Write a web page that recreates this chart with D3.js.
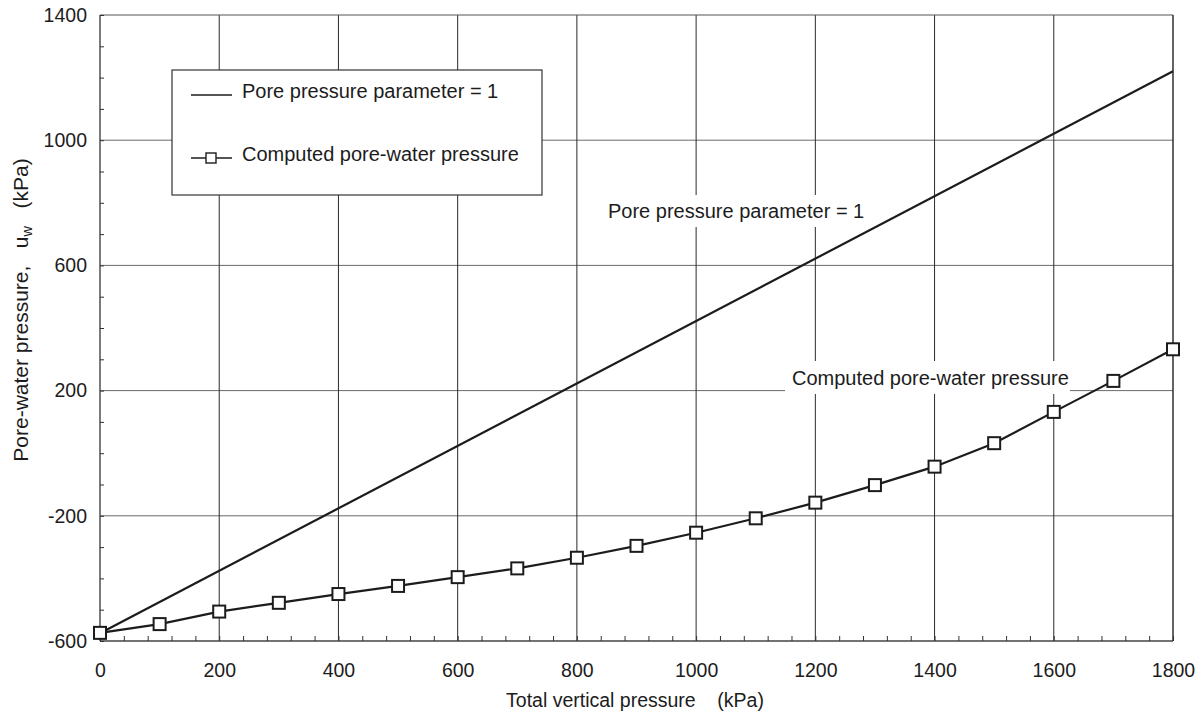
<!DOCTYPE html>
<html>
<head>
<meta charset="utf-8">
<script src="https://cdn.jsdelivr.net/npm/d3@7"></script>
<style>
  html, body { margin: 0; padding: 0; background: #fff; }
  svg { display: block; font-family: "Liberation Sans", Arial, Helvetica, sans-serif; }
</style>
</head>
<body>
<svg id="chart" width="1202" height="717"></svg>
<script>
// Total vertical pressure (kPa) at each computed point
const totalPressure = [0, 100, 200, 300, 400, 500, 600, 700, 800, 900, 1000,
                       1100, 1200, 1300, 1400, 1500, 1600, 1700, 1800];
// Computed pore-water pressure u_w (kPa)
const computedUw = [-574, -546, -506, -478, -450, -424, -396, -368, -334, -296, -254,
                    -208, -158, -102, -43, 32, 132, 231, 332];
// Reference line: pore pressure parameter = 1
const paramX = [0, 1800];
const paramUw = [-575, 1220];

const xTicks = [0, 200, 400, 600, 800, 1000, 1200, 1400, 1600, 1800];
const yTicks = [-600, -200, 200, 600, 1000, 1400];
const xMinor = d3.range(0, 1801, 40);
const yMinor = d3.range(-600, 1401, 100);

const svg = d3.select("#chart");
const x = d3.scaleLinear().domain([0, 1800]).range([100, 1173]);
const y = d3.scaleLinear().domain([-600, 1400]).range([641, 15]);
const fmt = d => String(d);   // plain hyphen for negatives

const ink = "#1c1c1c";
const grid = svg.append("g");

// horizontal grid (lighter)
grid.selectAll("line.h").data(yTicks.slice(1, -1)).join("line")
  .attr("x1", x(0)).attr("x2", x(1800))
  .attr("y1", d => y(d)).attr("y2", d => y(d))
  .attr("stroke", "#6a6a6a").attr("stroke-width", 1);
// vertical grid (darker)
grid.selectAll("line.v").data(xTicks.slice(1, -1)).join("line")
  .attr("x1", d => x(d)).attr("x2", d => x(d))
  .attr("y1", y(-600)).attr("y2", y(1400))
  .attr("stroke", "#2a2a2a").attr("stroke-width", 1);

// frame
svg.append("line").attr("x1", x(0)).attr("x2", x(1800)).attr("y1", y(1400)).attr("y2", y(1400))
  .attr("stroke", "#555").attr("stroke-width", 1.2);
svg.append("line").attr("x1", x(0)).attr("x2", x(1800)).attr("y1", y(-600)).attr("y2", y(-600))
  .attr("stroke", "#444").attr("stroke-width", 1.4);
svg.append("line").attr("x1", x(0)).attr("x2", x(0)).attr("y1", y(-600)).attr("y2", y(1400))
  .attr("stroke", "#444").attr("stroke-width", 1.4);
svg.append("line").attr("x1", x(1800)).attr("x2", x(1800)).attr("y1", y(-600)).attr("y2", y(1400))
  .attr("stroke", "#222").attr("stroke-width", 1.4);

// minor ticks pointing inward
const minorX = svg.append("g").attr("transform", `translate(0,${y(-600)})`)
  .call(d3.axisTop(x).tickValues(xMinor).tickSize(5).tickFormat(""));
minorX.select(".domain").remove();
minorX.selectAll("line").attr("stroke", "#333");
const minorY = svg.append("g").attr("transform", `translate(${x(0)},0)`)
  .call(d3.axisRight(y).tickValues(yMinor).tickSize(4).tickFormat(""));
minorY.select(".domain").remove();
minorY.selectAll("line").attr("stroke", "#333");

// tick labels
const xAxis = svg.append("g").attr("transform", `translate(0,${y(-600)})`)
  .call(d3.axisBottom(x).tickValues(xTicks).tickSize(0).tickPadding(22).tickFormat(fmt));
xAxis.select(".domain").remove();
xAxis.selectAll("text").attr("font-size", 19.5).attr("fill", ink)
  .attr("font-family", "'Liberation Sans', Arial, sans-serif");
const yAxis = svg.append("g").attr("transform", `translate(${x(0)},0)`)
  .call(d3.axisLeft(y).tickValues(yTicks).tickSize(0).tickPadding(13).tickFormat(fmt));
yAxis.select(".domain").remove();
yAxis.selectAll("text").attr("font-size", 19.5).attr("fill", ink)
  .attr("font-family", "'Liberation Sans', Arial, sans-serif");

// axis titles
svg.append("text").attr("x", 635).attr("y", 707).attr("text-anchor", "middle")
  .attr("font-size", 19.5).attr("fill", ink).attr("xml:space", "preserve")
  .text("Total vertical pressure    (kPa)");
const yt = svg.append("text").attr("transform", "translate(28,310) rotate(-90)")
  .attr("text-anchor", "middle").attr("font-size", 21).attr("fill", ink)
  .attr("xml:space", "preserve");
yt.append("tspan").text("Pore-water pressure,   u");
yt.append("tspan").attr("font-size", 14.5).attr("dy", 4).text("w");
yt.append("tspan").attr("dy", -4).text("   (kPa)");

// inline labels with white backing
function label(txt, x0, yBase, rect) {
  svg.append("rect").attr("x", rect[0]).attr("y", rect[1]).attr("width", rect[2]).attr("height", rect[3])
    .attr("fill", "#fff");
  svg.append("text").attr("x", x0).attr("y", yBase).attr("font-size", 20).attr("fill", ink).text(txt);
}
label("Pore pressure parameter = 1", 608, 218, [603, 195, 262, 32]);
label("Computed pore-water pressure", 792, 385, [785, 361, 285, 33]);

// parameter = 1 line
const line = d3.line().x(d => x(d[0])).y(d => y(d[1]));
svg.append("path").datum(paramX.map((v, i) => [v, paramUw[i]]))
  .attr("d", line).attr("fill", "none").attr("stroke", ink).attr("stroke-width", 2.2);

// computed pore-water pressure
const pts = totalPressure.map((v, i) => [v, computedUw[i]]);
svg.append("path").datum(pts).attr("d", line)
  .attr("fill", "none").attr("stroke", ink).attr("stroke-width", 2.2);
const ms = 12;
svg.selectAll("rect.m").data(pts).join("rect")
  .attr("x", d => x(d[0]) - ms / 2).attr("y", d => y(d[1]) - ms / 2)
  .attr("width", ms).attr("height", ms)
  .attr("fill", "#fff").attr("stroke", ink).attr("stroke-width", 2);

// legend
const lg = svg.append("g");
lg.append("rect").attr("x", 172).attr("y", 70).attr("width", 370).attr("height", 125)
  .attr("fill", "#fff").attr("stroke", "#333").attr("stroke-width", 1.2);
lg.append("line").attr("x1", 191).attr("x2", 232).attr("y1", 95).attr("y2", 95)
  .attr("stroke", ink).attr("stroke-width", 1.4);
lg.append("text").attr("x", 242).attr("y", 98).attr("font-size", 20).attr("fill", ink)
  .text("Pore pressure parameter = 1");
lg.append("line").attr("x1", 191).attr("x2", 232).attr("y1", 158).attr("y2", 158)
  .attr("stroke", ink).attr("stroke-width", 1.4);
lg.append("rect").attr("x", 206).attr("y", 153).attr("width", 10).attr("height", 10)
  .attr("fill", "#fff").attr("stroke", ink).attr("stroke-width", 1.4);
lg.append("text").attr("x", 242).attr("y", 161).attr("font-size", 20).attr("fill", ink)
  .text("Computed pore-water pressure");
</script>
</body>
</html>
